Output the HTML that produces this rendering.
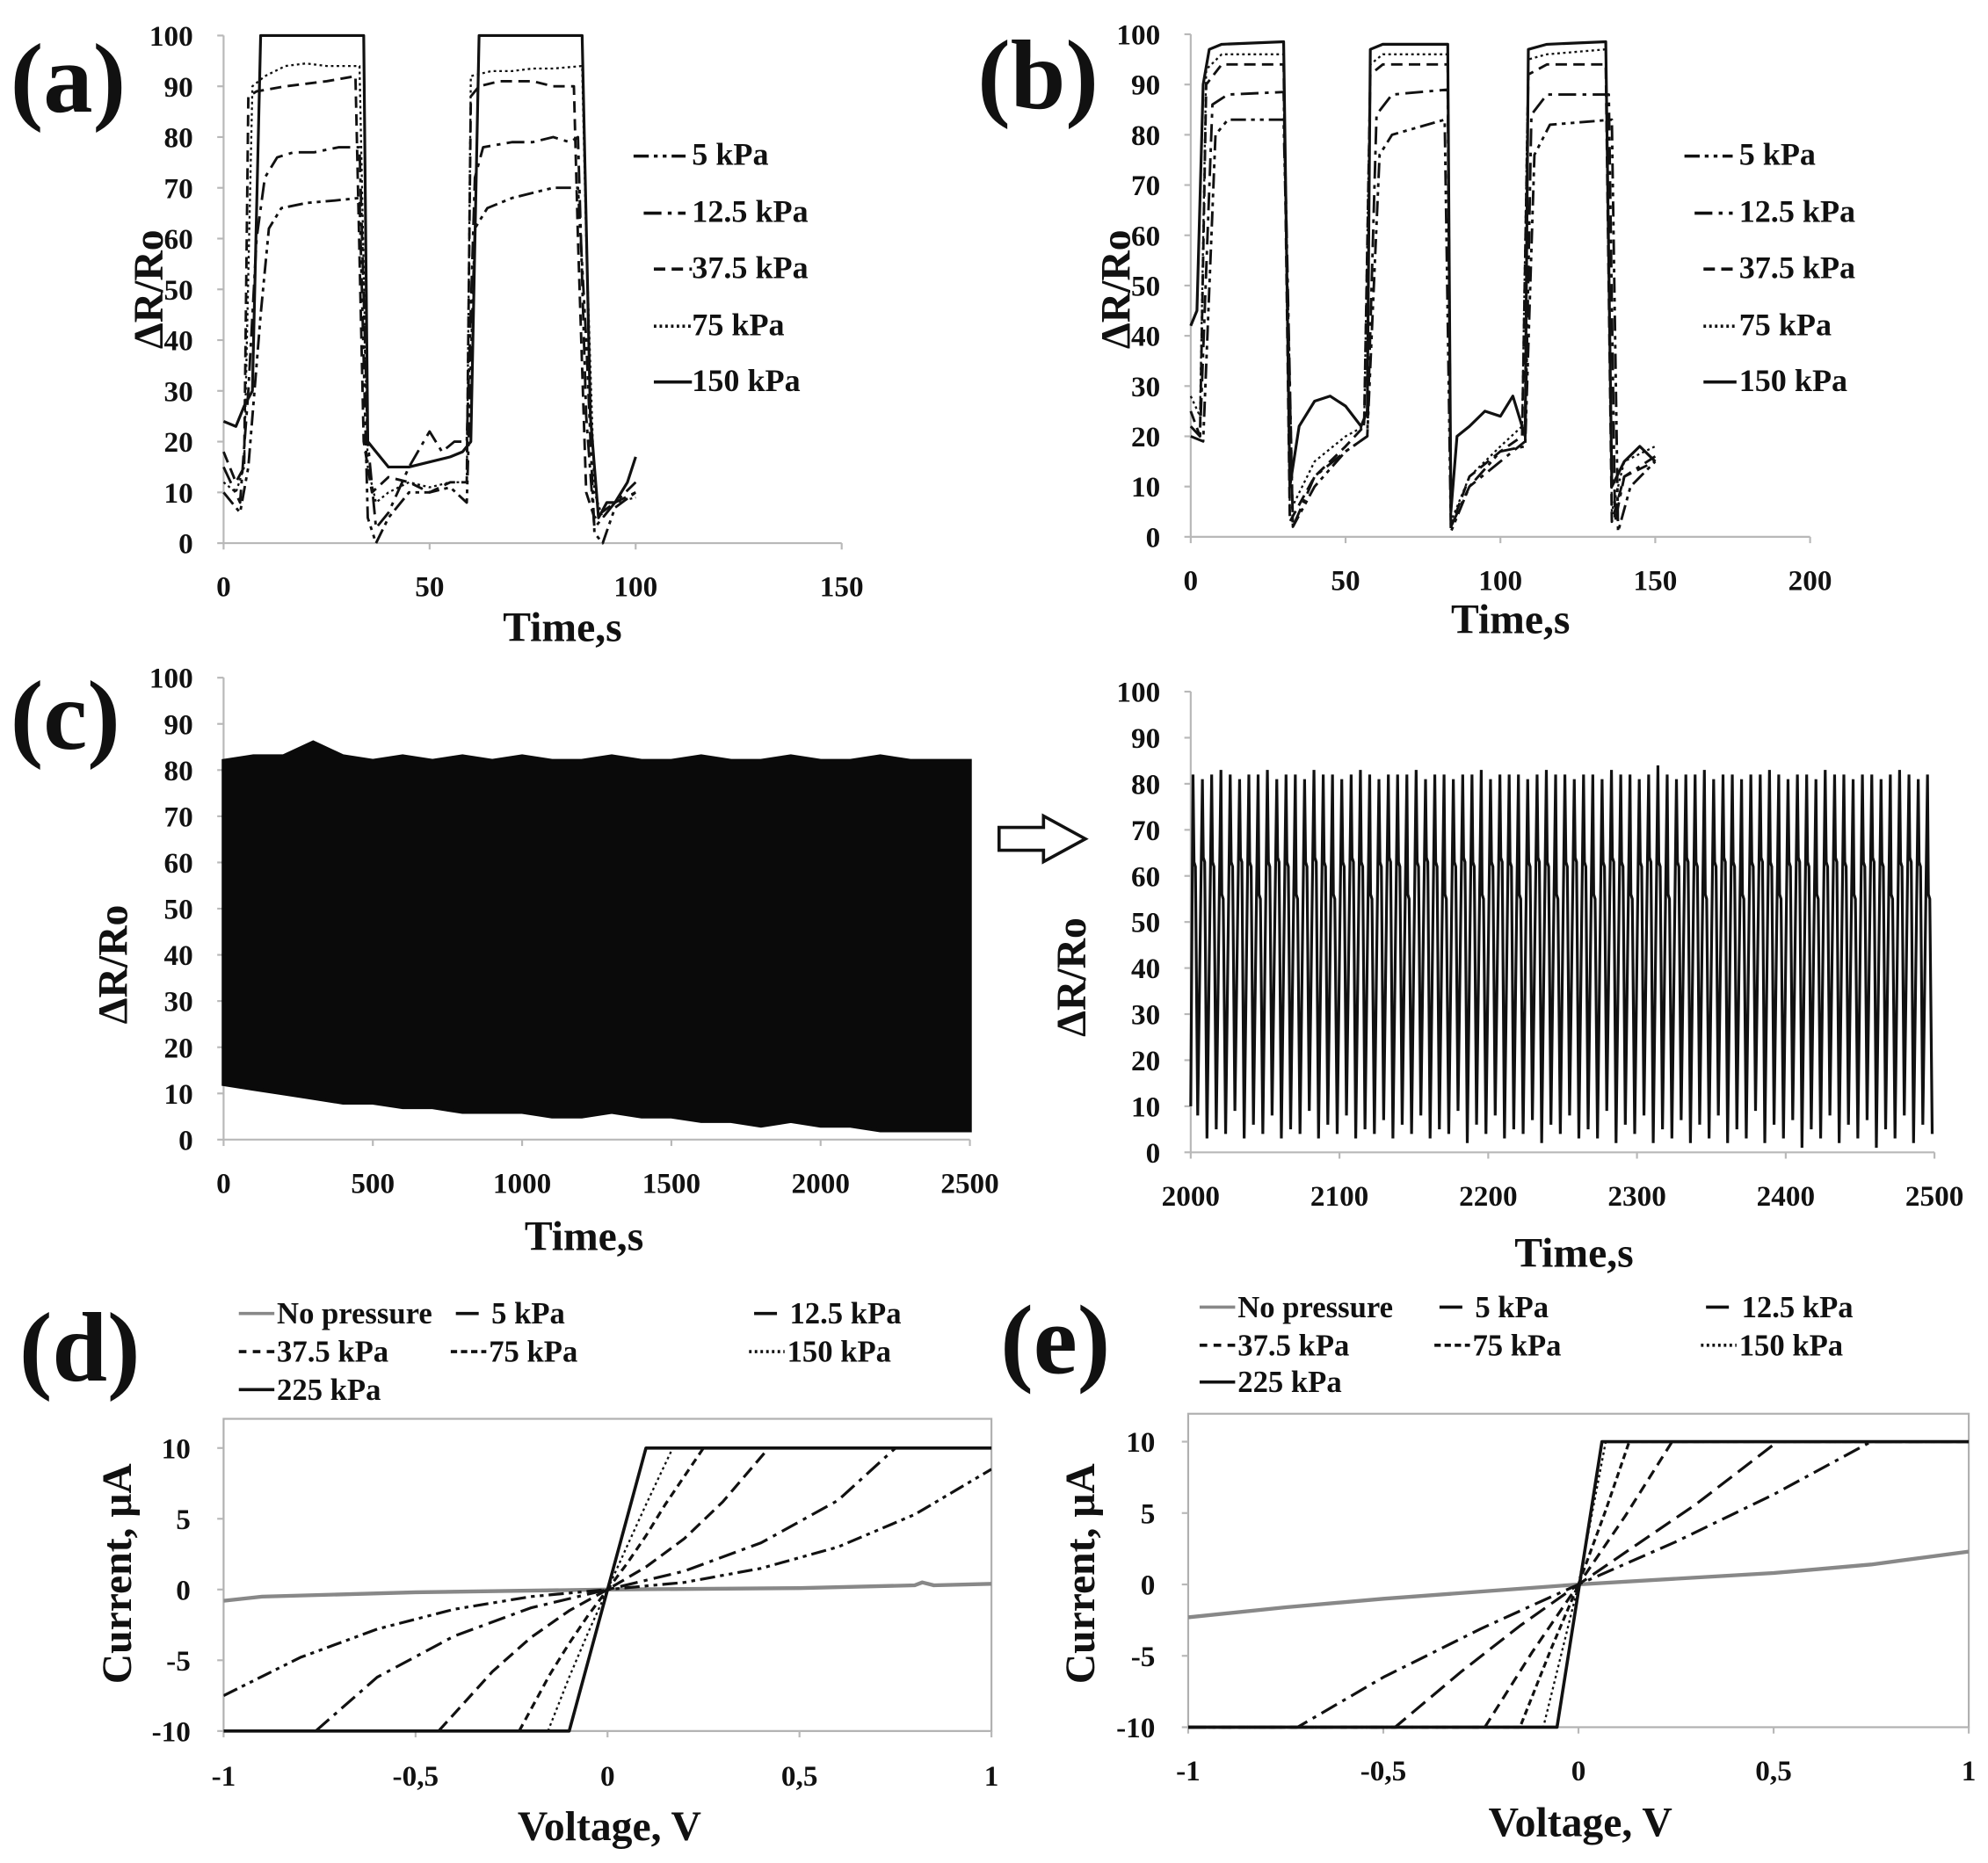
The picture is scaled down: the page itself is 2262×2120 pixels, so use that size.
<!DOCTYPE html>
<html><head><meta charset="utf-8">
<style>
html,body{margin:0;padding:0;background:#fff;}
svg{display:block;font-family:"Liberation Serif","Times New Roman",serif;}
text{font-family:"Liberation Serif","Times New Roman",serif;font-weight:bold;fill:#111;}
</style></head>
<body>
<svg id="fig" width="2262" height="2120" viewBox="0 0 1566 1468" xmlns="http://www.w3.org/2000/svg" font-family="Liberation Serif, Times New Roman, serif">
</svg>
<script>
// ---------- Panel (a) data ----------
const aT150=[0,3,5,7,9,34,35,37,40,45,50,55,58,60,62,87,89,91,93,95,98,100];
const aV150=[24,23,27,30,100,100,20,18,15,15,16,17,18,20,100,100,25,5,8,8,12,17];
const aT75=[0,3,5,7,10,15,20,25,33,35,37,40,45,50,55,59,60,65,70,75,80,87,88,90,92,95,100];
const aV75=[12,10,15,90,92,94,94.5,94,94,15,8,10,12,11,12,12,92,93,93,93.5,93.5,94,60,10,5,8,9];
const aT37=[0,3,5,6,8,15,25,32,34,36,40,45,50,55,59,60,62,67,75,80,85,86,88,90,95,100];
const aV37=[18,12,15,88,89,90,91,92,20,10,13,12,10,12,12,88,90,91,91,90,90,60,10,5,8,10];
const aT12=[0,4,6,8,10,13,17,22,28,33,35,37,40,45,50,53,56,59,61,63,70,75,80,84,86,88,90,95,100];
const aV12=[15,8,30,60,72,76,77,77,78,78,20,3,6,15,22,18,20,20,72,78,79,79,80,79,80,25,3,8,12];
const aT5=[0,4,6,9,11,14,20,27,33,35,37,40,45,50,55,59,61,64,70,75,80,86,88,90,92,95,100];
const aV5=[10,6,15,45,62,66,67,67.5,68,5,0,5,10,10,11,8,62,66,68,69,70,70,40,2,0,7,10];
const aXTicks=[0,50,100,150];
const pctTicks=[0,10,20,30,40,50,60,70,80,90,100];

// ---------- Panel (b) data ----------
const bT150=[0,2,4,6,10,30,32,35,40,45,50,55,57,58,62,83,84,86,90,95,100,104,108,109,115,134,136,140,145,150];
const bV150=[42,45,90,97,98,98.5,10,22,27,28,26,22,25,97,98,98,5,20,22,25,24,28,20,97,98,98.5,10,15,18,15];
const bT75=[0,3,5,10,30,32,40,50,56,58,62,83,84,90,100,107,109,115,134,136,140,150];
const bV75=[28,24,93,96,96,5,15,20,22,94,96,96,3,12,18,22,95,96,97,5,15,18];
const bT37=[0,3,5,10,30,32,40,50,56,58,62,83,84,90,100,107,109,115,134,136,140,150];
const bV37=[25,20,90,94,94,3,12,18,22,92,94,94,2,12,17,20,92,94,94,3,12,15];
const bT12=[0,3,7,12,30,33,40,50,57,60,65,83,84,90,100,108,110,115,135,137,140,150];
const bV12=[22,20,86,88,88.5,2,12,17,20,84,88,89,2,10,15,19,84,88,88,3,12,16];
const bT5=[0,4,8,12,30,33,40,50,57,61,65,82,84,90,100,108,111,116,136,138,142,150];
const bV5=[20,19,80,83,83,2,10,17,20,76,80,83,1,10,17,18,76,82,83,1,10,15];
const bXTicks=[0,50,100,150,200];

// ---------- Panel (c) data ----------
const cEnvT=[0,100,200,300,400,500,600,700,800,900,1000,1100,1200,1300,1400,1500,1600,1700,1800,1900,2000,2100,2200,2300,2400,2500];
const cUpper=[82,83,83,86,83,82,83,82,83,82,83,82,82,83,82,82,83,82,82,83,82,82,83,82,82,82];
const cLower=[12,11,10,9,8,8,7,7,6,6,6,5,5,6,5,5,4,4,3,4,3,3,2,2,2,2];
const cXTicks=[0,500,1000,1500,2000,2500];
const crPeaks=[82,81,82,83,82,81,82,82,83,81,82,82,81,83,82,82,81,82,83,82,81,82,82,82,83,81,82,82,81,82,82,83,81,82,82,82,81,82,83,82,82,81,82,82,81,83,82,82,81,82,84,82,81,82,82,83,81,82,82,81,82,82,83,82,81,82,82,81,83,82,82,81,82,82,81,82,83,82,81,82];
const crTroughs=[8,3,5,4,9,3,6,4,8,3,5,4,9,3,6,4,8,3,5,4,7,3,6,4,8,3,5,4,9,2,6,4,8,3,5,4,7,2,6,4,8,3,5,3,9,2,6,4,8,2,5,3,7,2,6,3,8,2,5,3,9,2,6,3,7,1,5,3,8,2,6,3,7,1,5,3,8,2,6,4];
const crShoulders=[63,64,63,56];
const crXTicks=[2000,2100,2200,2300,2400,2500];

// ---------- Panel (d) data ----------
const dVnone=[-1,-0.9,-0.5,0,0.5,0.8,0.82,0.85,1];
const dInone=[-0.8,-0.5,-0.2,0,0.1,0.3,0.5,0.3,0.4];
const dV5=[-1,-0.8,-0.6,-0.4,-0.2,0,0.2,0.4,0.6,0.8,1];
const dI5=[-7.5,-4.8,-2.8,-1.4,-0.5,0,0.5,1.5,3,5.3,8.5];
const dV12=[-0.76,-0.6,-0.4,-0.2,0,0.2,0.4,0.6,0.75,1];
const dI12=[-10,-6.2,-3.3,-1.3,0,1.3,3.3,6.3,10,10];
const dV37=[-0.44,-0.3,-0.2,-0.1,0,0.1,0.2,0.3,0.42,1];
const dI37=[-10,-5.8,-3.4,-1.5,0,1.6,3.6,6.2,10,10];
const dV75=[-0.23,-0.15,-0.1,-0.05,0,0.05,0.1,0.15,0.25,1];
const dI75=[-10,-6,-3.8,-1.8,0,1.8,3.8,6,10,10];
const dV150=[-0.155,-0.1,-0.05,0,0.05,0.1,0.17,1];
const dI150=[-10,-6.2,-3,0,3,6,10,10];
const dV225=[-1,-0.1,0.1,1];
const dI225=[-10,-10,10,10];

// ---------- Panel (e) data ----------
const eVnone=[-1,-0.75,-0.5,-0.25,0,0.25,0.5,0.75,1];
const eInone=[-2.3,-1.6,-1.0,-0.5,0,0.4,0.8,1.4,2.3];
const eV5=[-1,-0.72,-0.5,-0.25,0,0.25,0.5,0.75,1];
const eI5=[-10,-10,-6.5,-3.1,0,3,6.3,10,10];
const eV12=[-1,-0.47,-0.3,-0.15,0,0.15,0.3,0.51,1];
const eI12=[-10,-10,-6.1,-2.9,0,2.8,5.6,10,10];
const eV37=[-1,-0.24,-0.12,0,0.12,0.24,1];
const eI37=[-10,-10,-4.8,0,4.8,10,10];
const eV75=[-1,-0.15,-0.07,0,0.07,0.13,1];
const eI75=[-10,-10,-4.5,0,5.2,10,10];
const eV150=[-1,-0.09,0,0.07,1];
const eI150=[-10,-10,0,10,10];
const eV225=[-1,-0.055,0.06,1];
const eI225=[-10,-10,10,10];
const ivXTicks=[-1,-0.5,0,0.5,1];
const ivXLabels=["-1","-0,5","0","0,5","1"];
const ivYTicks=[-10,-5,0,5,10];

const NS="http://www.w3.org/2000/svg";
const FONT='"Liberation Serif", "Times New Roman", serif';
const svg=document.getElementById('fig');
function mk(tag,attrs,parent){const e=document.createElementNS(NS,tag);for(const k in attrs)e.setAttribute(k,attrs[k]);(parent||svg).appendChild(e);return e;}
function txt(s,x,y,size,anchor,name,extra){const e=mk('text',Object.assign({x:x,y:y,'font-size':size,'text-anchor':anchor||'start','font-family':FONT,'font-weight':'bold'},extra||{}));e.textContent=s;


return e;}
function scale(d0,d1,r0,r1){return v=>r0+(v-d0)/(d1-d0)*(r1-r0);}
function linePath(pts){return 'M'+pts.map(p=>p[0].toFixed(1)+','+p[1].toFixed(1)).join(' L');}
function series(xs,ys,sx,sy,name,dash,color,w,g){
 const pts=xs.map((x,i)=>[sx(x),sy(ys[i])]);
 const p=mk('path',{d:linePath(pts),fill:'none',stroke:color||'#111','stroke-width':w||2,'stroke-dasharray':dash||'none','stroke-linejoin':'round'},g);
 
 
 return p;}
function axes(x0,x1,y0,y1,xt,xl,yt,sx,sy,prefix,xlabY,ylabX,box){
 const g=mk('g',{});
 
 
 if(box){const r=mk('rect',{x:x0,y:y1,width:x1-x0,height:y0-y1,fill:'none',stroke:'#b0b0b0','stroke-width':1.5},g);
  
  }
 else{mk('line',{x1:x0,y1:y0,x2:x1,y2:y0,stroke:'#b8b8b8','stroke-width':1.5},g);
  mk('line',{x1:x0,y1:y0,x2:x0,y2:y1,stroke:'#b8b8b8','stroke-width':1.5},g);}
 xt.forEach((v,i)=>{const X=sx(v);mk('line',{x1:X,y1:y0,x2:X,y2:y0+5,stroke:'#b8b8b8','stroke-width':1.5},g);
  txt(xl?xl[i]:String(v),X,xlabY,23,'middle',prefix+'-x-tick-label');});
 yt.forEach(v=>{const Y=sy(v);mk('line',{x1:x0-5,y1:Y,x2:x0,y2:Y,stroke:'#b8b8b8','stroke-width':1.5},g);
  txt(String(v),ylabX,Y+8,23,'end',prefix+'-y-tick-label');});
 return g;}
function ylabel(s,x,y,size,name){return txt(s,x,y,size,'middle',name,{transform:'rotate(-90 '+x+' '+y+')'});}
function clip(id,x,y,w,h){const c=mk('clipPath',{id:id});mk('rect',{x:x,y:y,width:w,height:h},c);}
function legendLine(x1,x2,y,dash,color,w,name){const l=mk('line',{x1:x1,y1:y,x2:x2,y2:y,stroke:color||'#111','stroke-width':w||2.5,'stroke-dasharray':dash||'none'});
 
 }

const D5='12 4 3 4 3 4', D12='14 5 3 5', D37='9 5', D75='5 3', D150='2 2.5';

// ===== Panel (a) =====
{const sx=scale(0,150,176,663), sy=scale(0,100,428,28);
 axes(176,663,428,28,aXTicks,null,pctTicks,sx,sy,'panel-a',470,152,false);
 series(aT5,aV5,sx,sy,'panel-a-5kpa-line',D5);
 series(aT12,aV12,sx,sy,'panel-a-12-5kpa-line',D12);
 series(aT37,aV37,sx,sy,'panel-a-37-5kpa-line',D37);
 series(aT75,aV75,sx,sy,'panel-a-75kpa-line',D150,'#111',1.6);
 series(aT150,aV150,sx,sy,'panel-a-150kpa-line',null,'#111',2.2);
 txt('(a)',8,88,78,'start','panel-a-label');
 txt('Time,s',443,505,33,'middle','panel-a-x-axis-title');
 ylabel('ΔR/Ro',128,228,33,'panel-a-y-axis-title');
 const ly=[130,175,219,264,308],lab=['5 kPa','12.5 kPa','37.5 kPa','75 kPa','150 kPa'],ds=[D5,D12,D37,D150,null],lx=[[499,540],[507,540],[515,545],[515,545],[515,545]];
 lab.forEach((s,i)=>{legendLine(lx[i][0],lx[i][1],ly[i]-7,ds[i],'#111',2.5,'panel-a-legend-swatch');txt(s,545,ly[i],25,'start','panel-a-legend-entry');});
}
// ===== Panel (b) =====
{const sx=scale(0,200,938,1426), sy=scale(0,100,423,27);
 axes(938,1426,423,27,bXTicks,null,pctTicks,sx,sy,'panel-b',465,914,false);
 series(bT5,bV5,sx,sy,'panel-b-5kpa-line',D5);
 series(bT12,bV12,sx,sy,'panel-b-12-5kpa-line',D12);
 series(bT37,bV37,sx,sy,'panel-b-37-5kpa-line',D37);
 series(bT75,bV75,sx,sy,'panel-b-75kpa-line',D150,'#111',1.6);
 series(bT150,bV150,sx,sy,'panel-b-150kpa-line',null,'#111',2.2);
 txt('(b)',770,85,78,'start','panel-b-label');
 txt('Time,s',1190,499,33,'middle','panel-b-x-axis-title');
 ylabel('ΔR/Ro',890,228,33,'panel-b-y-axis-title');
 const ly=[130,175,219,264,308],lab=['5 kPa','12.5 kPa','37.5 kPa','75 kPa','150 kPa'],ds=[D5,D12,D37,D150,null],lx=[[1327,1365],[1335,1365],[1342,1368],[1342,1368],[1342,1368]];
 lab.forEach((s,i)=>{legendLine(lx[i][0],lx[i][1],ly[i]-7,ds[i],'#111',2.5,'panel-b-legend-swatch');txt(s,1370,ly[i],25,'start','panel-b-legend-entry');});
}
// ===== Panel (c) left =====
{const sx=scale(0,2500,176,764), sy=scale(0,100,898,534);
 axes(176,764,898,534,cXTicks,null,pctTicks,sx,sy,'panel-c-full',940,152,false);
 const up=cEnvT.map((t,i)=>sx(t).toFixed(1)+','+sy(cUpper[i]).toFixed(1));
 const lo=cEnvT.map((t,i)=>sx(t).toFixed(1)+','+sy(cLower[i]).toFixed(1)).reverse();
 const p=mk('polygon',{points:up.concat(lo).join(' '),fill:'#0a0a0a',stroke:'#0a0a0a','stroke-width':3});
 
 
 txt('(c)',8,590,78,'start','panel-c-label');
 txt('Time,s',460,985,33,'middle','panel-c-full-x-axis-title');
 ylabel('ΔR/Ro',100,760,33,'panel-c-full-y-axis-title');
 const ar=mk('path',{d:'M787,652 L822,652 L822,643 L855,661 L822,679 L822,670 L787,670 Z',fill:'#fff',stroke:'#111','stroke-width':2.5});
 
 
}
// ===== Panel (c) right =====
{const sx=scale(2000,2500,938,1524), sy=scale(0,100,908,545);
 axes(938,1524,908,545,crXTicks,null,pctTicks,sx,sy,'panel-c-zoom',950,914,false);
 const n=crPeaks.length, per=500/n; let d='M'+sx(2000).toFixed(1)+','+sy(10).toFixed(1);
 for(let i=0;i<n;i++){const t=2000+i*per;
  d+=' L'+sx(t+per*0.25).toFixed(1)+','+sy(crPeaks[i]).toFixed(1);
  d+=' L'+sx(t+per*0.35).toFixed(1)+','+sy(crShoulders[i%crShoulders.length]).toFixed(1);
  d+=' L'+sx(t+per*0.5).toFixed(1)+','+sy(crShoulders[i%crShoulders.length]-1).toFixed(1);
  d+=' L'+sx(t+per*0.75).toFixed(1)+','+sy(crTroughs[i%crTroughs.length]).toFixed(1);}
 const p=mk('path',{d:d,fill:'none',stroke:'#111','stroke-width':2.2});
 
 
 txt('Time,s',1240,998,33,'middle','panel-c-zoom-x-axis-title');
 ylabel('ΔR/Ro',855,770,33,'panel-c-zoom-y-axis-title');
}
// ===== Panel (d) =====
{const sx=scale(-1,1,176,781), sy=scale(-10,10,1364,1141);
 axes(176,781,1364,1118,ivXTicks,ivXLabels,ivYTicks,sx,sy,'panel-d',1407,150,true);
 clip('clipd',176,1118,605,248);
 const g=mk('g',{'clip-path':'url(#clipd)'});
 
 
 series(dVnone,dInone,sx,sy,'panel-d-no-pressure-line',null,'#888',3,g);
 series(dV5,dI5,sx,sy,'panel-d-5kpa-line',D5,'#111',2.2,g);
 series(dV12,dI12,sx,sy,'panel-d-12-5kpa-line',D12,'#111',2.2,g);
 series(dV37,dI37,sx,sy,'panel-d-37-5kpa-line','10 5','#111',2.2,g);
 series(dV75,dI75,sx,sy,'panel-d-75kpa-line','6 4','#111',2.2,g);
 series(dV150,dI150,sx,sy,'panel-d-150kpa-line',D150,'#111',1.6,g);
 series(dV225,dI225,sx,sy,'panel-d-225kpa-line',null,'#111',2.5,g);
 txt('(d)',15,1088,78,'start','panel-d-label');
 txt('Voltage, V',480,1450,33,'middle','panel-d-x-axis-title');
 ylabel('Current, μA',103,1240,33,'panel-d-y-axis-title');
 const L=[[188,1043,'No pressure',null,'#888'],[355,1043,'5 kPa',null,'#111'],[590,1043,'12.5 kPa',null,'#111'],
  [188,1073,'37.5 kPa','6 5','#111'],[355,1073,'75 kPa','5 3','#111'],[590,1073,'150 kPa',D150,'#111'],[188,1103,'225 kPa',null,'#111']];
 L.forEach(e=>{const sh=e[2]==='5 kPa'||e[2]==='12.5 kPa';legendLine(e[0]+(sh?4:0),e[0]+(sh?22:28),e[1]-8,e[3],e[4],2.5,'panel-d-legend-swatch');
  txt(e[2],e[0]+(sh?32:30),e[1],24,'start','panel-d-legend-entry');});
}
// ===== Panel (e) =====
{const sx=scale(-1,1,936,1551), sy=scale(-10,10,1361,1136);
 axes(936,1551,1361,1114,ivXTicks,ivXLabels,ivYTicks,sx,sy,'panel-e',1403,910,true);
 clip('clipe',936,1114,615,249);
 const g=mk('g',{'clip-path':'url(#clipe)'});
 
 
 series(eVnone,eInone,sx,sy,'panel-e-no-pressure-line',null,'#888',3,g);
 series(eV5,eI5,sx,sy,'panel-e-5kpa-line',D12,'#111',2.2,g);
 series(eV12,eI12,sx,sy,'panel-e-12-5kpa-line','14 6','#111',2.2,g);
 series(eV37,eI37,sx,sy,'panel-e-37-5kpa-line','8 5','#111',2.2,g);
 series(eV75,eI75,sx,sy,'panel-e-75kpa-line','5 3','#111',2.2,g);
 series(eV150,eI150,sx,sy,'panel-e-150kpa-line',D150,'#111',1.6,g);
 series(eV225,eI225,sx,sy,'panel-e-225kpa-line',null,'#111',2.5,g);
 txt('(e)',788,1082,78,'start','panel-e-label');
 txt('Voltage, V',1245,1447,33,'middle','panel-e-x-axis-title');
 ylabel('Current, μA',862,1240,33,'panel-e-y-axis-title');
 const L=[[945,1038,'No pressure',null,'#888'],[1130,1038,'5 kPa',null,'#111'],[1340,1038,'12.5 kPa',null,'#111'],
  [945,1068,'37.5 kPa','6 5','#111'],[1130,1068,'75 kPa','5 3','#111'],[1340,1068,'150 kPa',D150,'#111'],[945,1097,'225 kPa',null,'#111']];
 L.forEach(e=>{const sh=e[2]==='5 kPa'||e[2]==='12.5 kPa';legendLine(e[0]+(sh?4:0),e[0]+(sh?22:28),e[1]-8,e[3],e[4],2.5,'panel-e-legend-swatch');
  txt(e[2],e[0]+(sh?32:30),e[1],24,'start','panel-e-legend-entry');});
}
</script>
</body></html>
